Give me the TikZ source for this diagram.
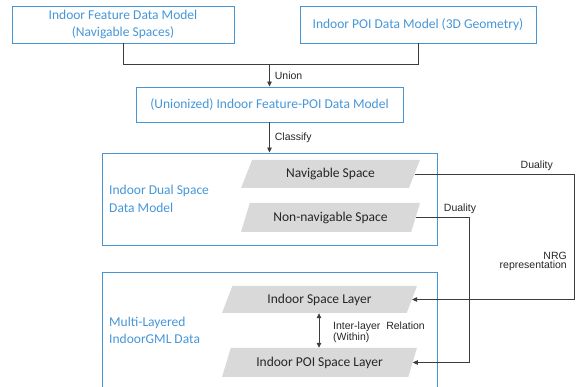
\documentclass[tikz,border=0pt]{standalone}
\usepackage{fontspec}
\setmainfont{Carlito}
\newfontfamily\lblfont{Liberation Sans}
\usetikzlibrary{arrows.meta,shapes.geometric}
\definecolor{bblue}{RGB}{70,150,215}
\definecolor{sgray}{RGB}{217,217,217}
\definecolor{lgray}{RGB}{60,60,60}
\begin{document}
\begin{tikzpicture}[x=1pt,y=-1pt,
 bluebox/.style={draw=bblue,line width=0.9pt,text=bblue,font=\fontsize{13.5}{16.5}\selectfont,align=center,inner sep=0},
 frame/.style={draw=bblue,line width=0.9pt,inner sep=0},
 bluetext/.style={text=bblue,font=\fontsize{13.5}{17.5}\selectfont,align=left,inner sep=0,anchor=west},
 spacebox/.style={trapezium,trapezium left angle=62,trapezium right angle=118,trapezium stretches=true,fill=sgray,text=black!85,font=\fontsize{13.5}{16}\selectfont,inner sep=0},
 conn/.style={draw=lgray,line width=0.8pt},
 arr/.style={conn,-{Triangle[length=5pt,width=4.5pt]}},
 dblarr/.style={conn,{Triangle[length=5pt,width=4.5pt]}-{Triangle[length=5pt,width=4.5pt]}},
 lbl/.style={font=\lblfont\fontsize{10.5}{9}\selectfont,text=black!85,inner sep=0},
]
\useasboundingbox (0,0) rectangle (579,387);
\clip (0,0) rectangle (579,387);
% top boxes
\node[bluebox,minimum width=222pt,minimum height=37pt] (A) at (123,24.5) {Indoor Feature Data Model\\(Navigable Spaces)};
\node[bluebox,minimum width=236pt,minimum height=37pt] (B) at (418,24.5) {Indoor POI Data Model (3D Geometry)};
\node[bluebox,minimum width=267pt,minimum height=35pt] (C) at (269.5,104.5) {(Unionized) Indoor Feature-POI Data Model};
% frames
\node[frame,minimum width=335pt,minimum height=92pt] (D) at (269.5,199) {};
\node[frame,minimum width=335pt,minimum height=128pt] (E) at (269.5,336) {};
\node[bluetext] (Dt) at (109,199) {Indoor Dual Space\\Data Model};
\node[bluetext] (Et) at (109,330.5) {Multi-Layered\\IndoorGML Data};
% space shapes
\node[spacebox,minimum width=179pt,minimum height=28pt] (N) at (330.5,174) {Navigable Space};
\node[spacebox,minimum width=179pt,minimum height=29pt] (NN) at (330.5,217.5) {Non-navigable Space};
\node[spacebox,minimum width=195pt,minimum height=27pt] (I) at (319.5,299.5) {Indoor Space Layer};
\node[spacebox,minimum width=195pt,minimum height=29pt] (P) at (319.5,362.5) {Indoor POI Space Layer};
% connectors
\coordinate (j) at (269.5,64);
\draw[conn] (A.south) -- (A.south |- j) -- (B.south |- j) -- (B.south);
\draw[arr] (j) -- (C.north) node[lbl,midway,right=5pt] (u) {Union};
\draw[arr] (C.south) -- (D.north) node[lbl,midway,right=5pt] (cl) {Classify};
\coordinate (r1) at (574,0);
\coordinate (r2) at (469,0);
\draw[arr] (N.east) -- (N.east -| r1) |- (I.east);
\draw[arr] (NN.east) -- (NN.east -| r2) |- (P.east);
\node[lbl,anchor=south east] (d1) at (553,170.5) {Duality};
\node[lbl,anchor=south] (d2) at (460,214) {Duality};
\node[lbl,align=right,anchor=east] (nrg) at (567,261.5) {NRG\\representation};
\draw[dblarr] (I.south -| 319,0) -- (P.north -| 319,0);
\node[lbl,align=left,anchor=west] (ir) at (333,332.5) {Inter-layer\ \ Relation\\(Within)};
\end{tikzpicture}
\end{document}
